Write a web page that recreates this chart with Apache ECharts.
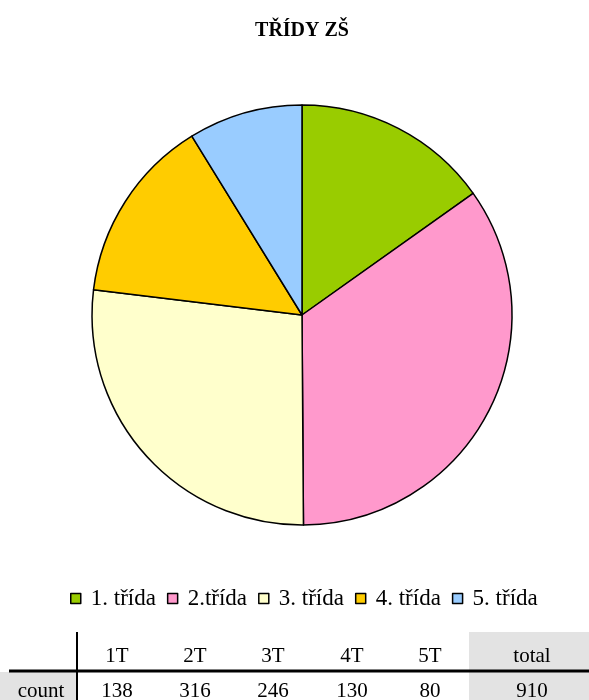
<!DOCTYPE html>
<html>
<head>
<meta charset="utf-8">
<script src="https://cdn.jsdelivr.net/npm/echarts@6/dist/echarts.min.js"></script>
<style>
html,body{margin:0;padding:0;background:#fff;}
#c{width:589px;height:700px;}
</style>
</head>
<body>
<div id="c"></div>
<script>
var title = 'TŘÍDY ZŠ';
var categories = ['1. třída', '2.třída', '3. třída', '4. třída', '5. třída'];
var values = [138, 316, 246, 130, 80];
var colors = ['#99CC00', '#FF99CC', '#FFFFCC', '#FFCC00', '#99CCFF'];
var tableHeaders = ['1T', '2T', '3T', '4T', '5T', 'total'];
var rowLabel = 'count';
var totalValue = 910;

var font = '"Liberation Serif", "Times New Roman", serif';
var colX = [117, 195, 273, 352, 430, 532];
var g = [];
g.push({type:'rect', shape:{x:469, y:632, width:120, height:68}, style:{fill:'#E3E3E3'}, silent:true});
g.push({type:'rect', shape:{x:0, y:672, width:76, height:28}, style:{fill:'#E3E3E3'}, silent:true});
g.push({type:'line', shape:{x1:9, y1:671, x2:589, y2:671}, style:{stroke:'#000', lineWidth:3}, silent:true});
g.push({type:'line', shape:{x1:77, y1:632, x2:77, y2:700}, style:{stroke:'#000', lineWidth:2}, silent:true});
var rowVals = values.concat([totalValue]);
for (var i = 0; i < tableHeaders.length; i++) {
  g.push({type:'text', x:colX[i], y:656, style:{text:tableHeaders[i], font:'21px ' + font, fill:'#000', align:'center', verticalAlign:'middle'}, silent:true});
  g.push({type:'text', x:colX[i], y:691, style:{text:String(rowVals[i]), font:'21px ' + font, fill:'#000', align:'center', verticalAlign:'middle'}, silent:true});
}
g.push({type:'text', x:41, y:691, style:{text:rowLabel, font:'21px ' + font, fill:'#000', align:'center', verticalAlign:'middle'}, silent:true});

var chart = echarts.init(document.getElementById('c'));
chart.setOption({
  animation: false,
  color: colors,
  title: {
    text: title, left: 302, textAlign: 'center', top: 21, padding: 0,
    textStyle: {fontFamily: font, fontSize: 20, fontWeight: 'bold', color: '#000'}
  },
  legend: {
    data: categories,
    left: 70, top: 587, padding: 0,
    icon: 'rect', itemWidth: 10, itemHeight: 10, itemGap: 11,
    itemStyle: {borderColor: '#000', borderWidth: 1.5},
    textStyle: {fontFamily: font, fontSize: 23, color: '#000', padding: [0, 0, 0, 5]}
  },
  series: [{
    type: 'pie',
    center: [302, 315],
    radius: [0, 210],
    startAngle: 90,
    clockwise: true,
    label: {show: false},
    labelLine: {show: false},
    emphasis: {disabled: true},
    itemStyle: {borderColor: '#000', borderWidth: 1.5},
    data: categories.map(function (c, i) { return {name: c, value: values[i]}; })
  }],
  graphic: g
});
</script>
</body>
</html>
